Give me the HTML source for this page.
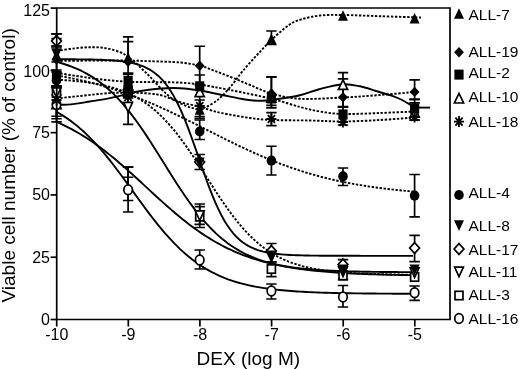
<!DOCTYPE html>
<html><head><meta charset="utf-8"><style>
html,body{margin:0;padding:0;background:#fff;}
svg{display:block;font-family:"Liberation Sans",sans-serif;filter:grayscale(1);}
</style></head><body>
<svg width="520" height="369" viewBox="0 0 520 369"><rect width="520" height="369" fill="#fff"/><path d="M56.50,59.22 L59.50,59.23 L62.49,59.24 L65.49,59.25 L68.48,59.26 L71.48,59.28 L74.47,59.30 L77.47,59.33 L80.47,59.36 L83.46,59.39 L86.46,59.44 L89.45,59.49 L92.45,59.55 L95.45,59.62 L98.44,59.70 L101.44,59.81 L104.43,59.93 L107.43,60.08 L110.42,60.25 L113.42,60.46 L116.42,60.70 L119.41,61.00 L122.41,61.35 L125.40,61.76 L128.40,62.25 L131.39,62.84 L134.39,63.53 L137.39,64.35 L140.38,65.32 L143.38,66.46 L146.37,67.81 L149.37,69.40 L152.37,71.25 L155.36,73.42 L158.36,75.93 L161.35,78.85 L164.35,82.21 L167.34,86.05 L170.34,90.43 L173.34,95.36 L176.33,100.87 L179.33,106.97 L182.32,113.65 L185.32,120.88 L188.32,128.60 L191.31,136.72 L194.31,145.16 L197.30,153.79 L200.30,162.47 L203.29,171.08 L206.29,179.48 L209.29,187.55 L212.28,195.20 L215.28,202.35 L218.27,208.95 L221.27,214.97 L224.26,220.40 L227.26,225.25 L230.26,229.54 L233.25,233.31 L236.25,236.60 L239.24,239.46 L242.24,241.93 L245.24,244.04 L248.23,245.86 L251.23,247.41 L254.22,248.72 L257.22,249.84 L260.21,250.79 L263.21,251.59 L266.21,252.26 L269.20,252.83 L272.20,253.31 L275.19,253.72 L278.19,254.06 L281.18,254.34 L284.18,254.59 L287.18,254.79 L290.17,254.96 L293.17,255.10 L296.16,255.22 L299.16,255.32 L302.16,255.40 L305.15,255.47 L308.15,255.53 L311.14,255.58 L314.14,255.62 L317.13,255.66 L320.13,255.69 L323.13,255.71 L326.12,255.73 L329.12,255.75 L332.11,255.76 L335.11,255.78 L338.11,255.79 L341.10,255.79 L344.10,255.80 L347.09,255.81 L350.09,255.81 L353.08,255.82 L356.08,255.82 L359.08,255.82 L362.07,255.83 L365.07,255.83 L368.06,255.83 L371.06,255.83 L374.05,255.83 L377.05,255.83 L380.05,255.83 L383.04,255.83 L386.04,255.83 L389.03,255.84 L392.03,255.84 L395.03,255.84 L398.02,255.84 L401.02,255.84 L404.01,255.84 L407.01,255.84 L410.00,255.84 L413.00,255.84" fill="none" stroke="#000" stroke-width="1.9"/><path d="M56.50,61.84 L59.51,62.64 L62.52,63.52 L65.53,64.47 L68.54,65.49 L71.55,66.60 L74.56,67.80 L77.56,69.09 L80.57,70.48 L83.58,71.98 L86.59,73.59 L89.60,75.32 L92.61,77.17 L95.62,79.16 L98.63,81.28 L101.64,83.54 L104.65,85.95 L107.66,88.52 L110.67,91.24 L113.68,94.12 L116.68,97.16 L119.69,100.37 L122.70,103.74 L125.71,107.27 L128.72,110.96 L131.73,114.81 L134.74,118.81 L137.75,122.95 L140.76,127.22 L143.77,131.61 L146.78,136.12 L149.79,140.72 L152.80,145.40 L155.81,150.15 L158.81,154.94 L161.82,159.76 L164.83,164.59 L167.84,169.42 L170.85,174.21 L173.86,178.97 L176.87,183.66 L179.88,188.27 L182.89,192.78 L185.90,197.19 L188.91,201.48 L191.92,205.64 L194.93,209.65 L197.93,213.52 L200.94,217.23 L203.95,220.78 L206.96,224.17 L209.97,227.40 L212.98,230.46 L215.99,233.36 L219.00,236.10 L222.01,238.68 L225.02,241.11 L228.03,243.40 L231.04,245.54 L234.05,247.54 L237.05,249.41 L240.06,251.15 L243.07,252.78 L246.08,254.29 L249.09,255.69 L252.10,256.99 L255.11,258.20 L258.12,259.32 L261.13,260.35 L264.14,261.31 L267.15,262.20 L270.16,263.01 L273.17,263.77 L276.17,264.46 L279.18,265.10 L282.19,265.69 L285.20,266.23 L288.21,266.73 L291.22,267.19 L294.23,267.61 L297.24,268.00 L300.25,268.36 L303.26,268.69 L306.27,268.99 L309.28,269.26 L312.29,269.52 L315.29,269.75 L318.30,269.96 L321.31,270.16 L324.32,270.34 L327.33,270.51 L330.34,270.66 L333.35,270.80 L336.36,270.92 L339.37,271.04 L342.38,271.15 L345.39,271.24 L348.40,271.33 L351.41,271.42 L354.42,271.49 L357.42,271.56 L360.43,271.62 L363.44,271.68 L366.45,271.74 L369.46,271.78 L372.47,271.83 L375.48,271.87 L378.49,271.91 L381.50,271.94 L384.51,271.97 L387.52,272.00 L390.53,272.03 L393.54,272.05 L396.54,272.07 L399.55,272.09 L402.56,272.11 L405.57,272.13 L408.58,272.15 L411.59,272.16 L414.60,272.17" fill="none" stroke="#000" stroke-width="1.9"/><path d="M56.50,121.93 L59.51,123.25 L62.52,124.64 L65.53,126.08 L68.54,127.59 L71.55,129.17 L74.56,130.81 L77.56,132.51 L80.57,134.29 L83.58,136.13 L86.59,138.03 L89.60,140.01 L92.61,142.05 L95.62,144.15 L98.63,146.32 L101.64,148.56 L104.65,150.85 L107.66,153.21 L110.67,155.62 L113.68,158.08 L116.68,160.60 L119.69,163.16 L122.70,165.76 L125.71,168.41 L128.72,171.09 L131.73,173.80 L134.74,176.53 L137.75,179.29 L140.76,182.06 L143.77,184.84 L146.78,187.62 L149.79,190.40 L152.80,193.18 L155.81,195.94 L158.81,198.69 L161.82,201.41 L164.83,204.11 L167.84,206.77 L170.85,209.40 L173.86,211.98 L176.87,214.52 L179.88,217.01 L182.89,219.45 L185.90,221.84 L188.91,224.16 L191.92,226.43 L194.93,228.63 L197.93,230.77 L200.94,232.85 L203.95,234.86 L206.96,236.80 L209.97,238.68 L212.98,240.49 L215.99,242.23 L219.00,243.90 L222.01,245.51 L225.02,247.06 L228.03,248.54 L231.04,249.96 L234.05,251.31 L237.05,252.61 L240.06,253.84 L243.07,255.03 L246.08,256.15 L249.09,257.22 L252.10,258.24 L255.11,259.21 L258.12,260.13 L261.13,261.01 L264.14,261.84 L267.15,262.63 L270.16,263.38 L273.17,264.09 L276.17,264.76 L279.18,265.39 L282.19,265.99 L285.20,266.56 L288.21,267.10 L291.22,267.61 L294.23,268.09 L297.24,268.54 L300.25,268.97 L303.26,269.37 L306.27,269.75 L309.28,270.11 L312.29,270.45 L315.29,270.77 L318.30,271.07 L321.31,271.36 L324.32,271.62 L327.33,271.88 L330.34,272.11 L333.35,272.34 L336.36,272.55 L339.37,272.75 L342.38,272.93 L345.39,273.11 L348.40,273.27 L351.41,273.43 L354.42,273.58 L357.42,273.71 L360.43,273.84 L363.44,273.97 L366.45,274.08 L369.46,274.19 L372.47,274.29 L375.48,274.38 L378.49,274.47 L381.50,274.56 L384.51,274.64 L387.52,274.71 L390.53,274.78 L393.54,274.85 L396.54,274.91 L399.55,274.97 L402.56,275.02 L405.57,275.07 L408.58,275.12 L411.59,275.17 L414.60,275.21" fill="none" stroke="#000" stroke-width="1.9"/><path d="M56.50,111.83 L59.51,113.55 L62.52,115.38 L65.53,117.33 L68.54,119.39 L71.55,121.57 L74.56,123.88 L77.56,126.31 L80.57,128.88 L83.58,131.57 L86.59,134.39 L89.60,137.34 L92.61,140.42 L95.62,143.63 L98.63,146.96 L101.64,150.41 L104.65,153.97 L107.66,157.64 L110.67,161.41 L113.68,165.27 L116.68,169.21 L119.69,173.22 L122.70,177.29 L125.71,181.40 L128.72,185.54 L131.73,189.71 L134.74,193.87 L137.75,198.03 L140.76,202.17 L143.77,206.27 L146.78,210.33 L149.79,214.32 L152.80,218.24 L155.81,222.08 L158.81,225.82 L161.82,229.47 L164.83,233.01 L167.84,236.43 L170.85,239.73 L173.86,242.90 L176.87,245.95 L179.88,248.87 L182.89,251.66 L185.90,254.32 L188.91,256.85 L191.92,259.25 L194.93,261.53 L197.93,263.68 L200.94,265.72 L203.95,267.63 L206.96,269.44 L209.97,271.13 L212.98,272.72 L215.99,274.21 L219.00,275.61 L222.01,276.92 L225.02,278.14 L228.03,279.28 L231.04,280.34 L234.05,281.33 L237.05,282.26 L240.06,283.12 L243.07,283.91 L246.08,284.66 L249.09,285.34 L252.10,285.98 L255.11,286.58 L258.12,287.13 L261.13,287.64 L264.14,288.11 L267.15,288.55 L270.16,288.95 L273.17,289.33 L276.17,289.67 L279.18,289.99 L282.19,290.29 L285.20,290.56 L288.21,290.82 L291.22,291.05 L294.23,291.27 L297.24,291.47 L300.25,291.65 L303.26,291.82 L306.27,291.98 L309.28,292.13 L312.29,292.26 L315.29,292.39 L318.30,292.50 L321.31,292.61 L324.32,292.70 L327.33,292.79 L330.34,292.88 L333.35,292.95 L336.36,293.02 L339.37,293.09 L342.38,293.15 L345.39,293.20 L348.40,293.26 L351.41,293.30 L354.42,293.35 L357.42,293.39 L360.43,293.42 L363.44,293.46 L366.45,293.49 L369.46,293.52 L372.47,293.54 L375.48,293.57 L378.49,293.59 L381.50,293.61 L384.51,293.63 L387.52,293.65 L390.53,293.67 L393.54,293.68 L396.54,293.70 L399.55,293.71 L402.56,293.72 L405.57,293.73 L408.58,293.74 L411.59,293.75 L414.60,293.76" fill="none" stroke="#000" stroke-width="1.9"/><path d="M56.50,79.64 L59.51,79.81 L62.52,79.99 L65.53,80.20 L68.54,80.42 L71.55,80.66 L74.56,80.93 L77.56,81.22 L80.57,81.54 L83.58,81.89 L86.59,82.28 L89.60,82.70 L92.61,83.17 L95.62,83.68 L98.63,84.23 L101.64,84.84 L104.65,85.50 L107.66,86.23 L110.67,87.02 L113.68,87.88 L116.68,88.82 L119.69,89.84 L122.70,90.96 L125.71,92.17 L128.72,93.48 L131.73,94.90 L134.74,96.44 L137.75,98.11 L140.76,99.90 L143.77,101.84 L146.78,103.92 L149.79,106.15 L152.80,108.53 L155.81,111.08 L158.81,113.80 L161.82,116.69 L164.83,119.75 L167.84,122.98 L170.85,126.39 L173.86,129.96 L176.87,133.70 L179.88,137.60 L182.89,141.64 L185.90,145.83 L188.91,150.14 L191.92,154.56 L194.93,159.08 L197.93,163.67 L200.94,168.33 L203.95,173.02 L206.96,177.72 L209.97,182.42 L212.98,187.09 L215.99,191.71 L219.00,196.27 L222.01,200.74 L225.02,205.10 L228.03,209.35 L231.04,213.46 L234.05,217.43 L237.05,221.24 L240.06,224.90 L243.07,228.38 L246.08,231.69 L249.09,234.83 L252.10,237.80 L255.11,240.60 L258.12,243.22 L261.13,245.69 L264.14,247.99 L267.15,250.14 L270.16,252.14 L273.17,254.00 L276.17,255.72 L279.18,257.32 L282.19,258.79 L285.20,260.16 L288.21,261.41 L291.22,262.57 L294.23,263.64 L297.24,264.61 L300.25,265.51 L303.26,266.34 L306.27,267.09 L309.28,267.78 L312.29,268.42 L315.29,268.99 L318.30,269.52 L321.31,270.01 L324.32,270.45 L327.33,270.85 L330.34,271.22 L333.35,271.56 L336.36,271.86 L339.37,272.14 L342.38,272.39 L345.39,272.63 L348.40,272.84 L351.41,273.03 L354.42,273.20 L357.42,273.36 L360.43,273.51 L363.44,273.64 L366.45,273.76 L369.46,273.87 L372.47,273.97 L375.48,274.06 L378.49,274.14 L381.50,274.22 L384.51,274.29 L387.52,274.35 L390.53,274.40 L393.54,274.46 L396.54,274.50 L399.55,274.54 L402.56,274.58 L405.57,274.62 L408.58,274.65 L411.59,274.68 L414.60,274.70" fill="none" stroke="#000" stroke-width="1.9" stroke-dasharray="2.4 1.6"/><path d="M56.50,75.40 L59.51,75.93 L62.52,76.48 L65.53,77.04 L68.54,77.63 L71.55,78.24 L74.56,78.87 L77.56,79.52 L80.57,80.20 L83.58,80.90 L86.59,81.62 L89.60,82.37 L92.61,83.14 L95.62,83.93 L98.63,84.75 L101.64,85.60 L104.65,86.47 L107.66,87.37 L110.67,88.29 L113.68,89.24 L116.68,90.21 L119.69,91.22 L122.70,92.24 L125.71,93.30 L128.72,94.38 L131.73,95.49 L134.74,96.62 L137.75,97.78 L140.76,98.97 L143.77,100.18 L146.78,101.41 L149.79,102.67 L152.80,103.95 L155.81,105.26 L158.81,106.58 L161.82,107.93 L164.83,109.30 L167.84,110.69 L170.85,112.09 L173.86,113.51 L176.87,114.95 L179.88,116.41 L182.89,117.87 L185.90,119.35 L188.91,120.84 L191.92,122.34 L194.93,123.84 L197.93,125.36 L200.94,126.87 L203.95,128.39 L206.96,129.92 L209.97,131.44 L212.98,132.96 L215.99,134.48 L219.00,135.99 L222.01,137.50 L225.02,139.00 L228.03,140.49 L231.04,141.97 L234.05,143.44 L237.05,144.89 L240.06,146.34 L243.07,147.76 L246.08,149.17 L249.09,150.56 L252.10,151.93 L255.11,153.28 L258.12,154.62 L261.13,155.92 L264.14,157.21 L267.15,158.47 L270.16,159.71 L273.17,160.93 L276.17,162.12 L279.18,163.28 L282.19,164.42 L285.20,165.53 L288.21,166.62 L291.22,167.68 L294.23,168.71 L297.24,169.72 L300.25,170.70 L303.26,171.66 L306.27,172.58 L309.28,173.49 L312.29,174.36 L315.29,175.21 L318.30,176.04 L321.31,176.84 L324.32,177.61 L327.33,178.36 L330.34,179.09 L333.35,179.79 L336.36,180.47 L339.37,181.13 L342.38,181.77 L345.39,182.38 L348.40,182.97 L351.41,183.54 L354.42,184.09 L357.42,184.63 L360.43,185.14 L363.44,185.63 L366.45,186.11 L369.46,186.57 L372.47,187.01 L375.48,187.43 L378.49,187.84 L381.50,188.23 L384.51,188.61 L387.52,188.98 L390.53,189.32 L393.54,189.66 L396.54,189.98 L399.55,190.29 L402.56,190.59 L405.57,190.88 L408.58,191.15 L411.59,191.41 L414.60,191.66" fill="none" stroke="#000" stroke-width="1.9" stroke-dasharray="2.4 1.6"/><path d="M56.50,51.00 C59.58,50.55 69.08,48.93 75.00,48.30 C80.92,47.67 86.67,47.18 92.00,47.20 C97.33,47.22 102.17,47.52 107.00,48.40 C111.83,49.28 117.50,51.07 121.00,52.50 C124.50,53.93 125.50,55.25 128.00,57.00 C130.50,58.75 133.48,60.83 136.00,63.00 C138.52,65.17 140.81,67.75 143.10,70.00 C145.39,72.25 147.18,73.83 149.75,76.50 C152.32,79.17 155.62,83.00 158.50,86.00 C161.38,89.00 164.25,92.08 167.00,94.50 C169.75,96.92 172.00,98.67 175.00,100.50 C178.00,102.33 182.00,104.22 185.00,105.50 C188.00,106.78 190.55,107.62 193.00,108.20 C195.45,108.78 197.53,109.20 199.70,109.00 C201.87,108.80 203.62,108.08 206.00,107.00 C208.38,105.92 211.38,104.29 214.00,102.50 C216.62,100.71 218.58,99.38 221.75,96.25 C224.92,93.12 229.50,87.96 233.00,83.75 C236.50,79.54 238.75,75.79 242.75,71.00 C246.75,66.21 252.22,60.17 257.00,55.00 C261.77,49.83 266.07,45.00 271.40,40.00 C276.73,35.00 284.02,28.43 289.00,25.00 C293.98,21.57 296.08,20.98 301.25,19.40 C306.42,17.82 313.04,16.23 320.00,15.50 C326.96,14.77 333.00,14.88 343.00,15.00 C353.00,15.12 367.00,15.78 380.00,16.20 C393.00,16.62 414.17,17.28 421.00,17.50" fill="none" stroke="#000" stroke-width="1.9" stroke-dasharray="2.4 1.6"/><path d="M56.50,60.80 C63.75,60.77 88.08,60.63 100.00,60.60 C111.92,60.57 119.67,60.50 128.00,60.60 C136.33,60.70 141.33,60.88 150.00,61.20 C158.67,61.52 171.72,61.75 180.00,62.50 C188.28,63.25 193.87,64.28 199.70,65.70 C205.53,67.12 209.62,69.03 215.00,71.00 C220.38,72.97 226.17,75.17 232.00,77.50 C237.83,79.83 243.42,82.33 250.00,85.00 C256.58,87.67 263.17,91.20 271.50,93.50 C279.83,95.80 288.08,98.13 300.00,98.80 C311.92,99.47 329.67,98.13 343.00,97.50 C356.33,96.87 368.07,95.92 380.00,95.00 C391.93,94.08 408.83,92.50 414.60,92.00" fill="none" stroke="#000" stroke-width="1.9" stroke-dasharray="2.4 1.6"/><path d="M56.50,72.80 C60.42,73.42 72.75,75.42 80.00,76.50 C87.25,77.58 92.00,78.42 100.00,79.30 C108.00,80.18 119.67,81.33 128.00,81.80 C136.33,82.27 141.33,81.97 150.00,82.10 C158.67,82.23 171.72,82.18 180.00,82.60 C188.28,83.02 191.37,83.37 199.70,84.60 C208.03,85.83 218.03,87.64 230.00,90.00 C241.97,92.36 259.83,95.92 271.50,98.75 C283.17,101.58 291.92,104.88 300.00,107.00 C308.08,109.12 312.83,110.33 320.00,111.50 C327.17,112.67 333.00,113.75 343.00,114.00 C353.00,114.25 368.07,113.42 380.00,113.00 C391.93,112.58 408.83,111.75 414.60,111.50" fill="none" stroke="#000" stroke-width="1.9" stroke-dasharray="2.4 1.6"/><path d="M56.50,98.50 C60.42,98.08 71.25,96.90 80.00,96.00 C88.75,95.10 101.00,93.63 109.00,93.10 C117.00,92.57 122.00,92.78 128.00,92.80 C134.00,92.82 139.67,92.83 145.00,93.20 C150.33,93.57 155.33,93.95 160.00,95.00 C164.67,96.05 168.83,98.08 173.00,99.50 C177.17,100.92 180.55,102.33 185.00,103.50 C189.45,104.67 195.53,105.42 199.70,106.50 C203.87,107.58 206.28,108.90 210.00,110.00 C213.72,111.10 215.33,111.77 222.00,113.10 C228.67,114.43 241.75,116.85 250.00,118.00 C258.25,119.15 261.50,119.58 271.50,120.00 C281.50,120.42 298.08,120.25 310.00,120.50 C321.92,120.75 331.33,121.58 343.00,121.50 C354.67,121.42 368.07,120.67 380.00,120.00 C391.93,119.33 408.83,117.92 414.60,117.50" fill="none" stroke="#000" stroke-width="1.9" stroke-dasharray="2.4 1.6"/><path d="M56.50,104.60 C58.88,104.57 65.22,104.92 70.80,104.40 C76.38,103.88 83.88,102.47 90.00,101.50 C96.12,100.53 101.90,99.70 107.50,98.60 C113.10,97.50 119.02,96.00 123.60,94.90 C128.18,93.80 128.68,93.07 135.00,92.00 C141.32,90.93 154.00,89.13 161.50,88.50 C169.00,87.87 173.62,87.87 180.00,88.20 C186.38,88.53 192.75,89.37 199.75,90.50 C206.75,91.63 214.46,93.50 222.00,95.00 C229.54,96.50 238.67,98.53 245.00,99.50 C251.33,100.47 255.00,100.80 260.00,100.80 C265.00,100.80 268.33,100.42 275.00,99.50 C281.67,98.58 292.50,97.05 300.00,95.30 C307.50,93.55 312.83,90.83 320.00,89.00 C327.17,87.17 336.33,84.75 343.00,84.30 C349.67,83.85 354.50,85.18 360.00,86.30 C365.50,87.42 371.00,89.52 376.00,91.00 C381.00,92.48 386.00,93.87 390.00,95.20 C394.00,96.53 396.67,97.43 400.00,99.00 C403.33,100.57 407.57,103.18 410.00,104.60 C412.43,106.02 413.83,107.02 414.60,107.50" fill="none" stroke="#000" stroke-width="1.9"/><path d="M414.6,107.6 L430,107.6" fill="none" stroke="#000" stroke-width="1.9"/><path d="M56.5,86 V116.25 M51.3,86 H61.7 M51.3,116.25 H61.7" stroke="#000" stroke-width="1.7" fill="none"/><path d="M128.1,167.1 V190 M122.89999999999999,167.1 H133.29999999999998 M122.89999999999999,190 H133.29999999999998" stroke="#000" stroke-width="1.7" fill="none"/><path d="M199.7,204 V227.5 M194.5,204 H204.89999999999998 M194.5,227.5 H204.89999999999998" stroke="#000" stroke-width="1.7" fill="none"/><path d="M271.4,262 V276.7 M266.2,262 H276.59999999999997 M266.2,276.7 H276.59999999999997" stroke="#000" stroke-width="1.7" fill="none"/><path d="M56.5,86 V118.75 M51.3,86 H61.7 M51.3,118.75 H61.7" stroke="#000" stroke-width="1.7" fill="none"/><path d="M128.1,98 V124.4 M122.89999999999999,98 H133.29999999999998 M122.89999999999999,124.4 H133.29999999999998" stroke="#000" stroke-width="1.7" fill="none"/><path d="M199.7,206.7 V224.4 M194.5,206.7 H204.89999999999998 M194.5,224.4 H204.89999999999998" stroke="#000" stroke-width="1.7" fill="none"/><path d="M56.5,33.8 V46 M51.3,33.8 H61.7 M51.3,46 H61.7" stroke="#000" stroke-width="1.7" fill="none"/><path d="M199.7,154.5 V169.5 M194.5,154.5 H204.89999999999998 M194.5,169.5 H204.89999999999998" stroke="#000" stroke-width="1.7" fill="none"/><path d="M271.4,243.5 V262 M266.2,243.5 H276.59999999999997 M266.2,262 H276.59999999999997" stroke="#000" stroke-width="1.7" fill="none"/><path d="M343.0,259.7 V279.6 M337.8,259.7 H348.2 M337.8,279.6 H348.2" stroke="#000" stroke-width="1.7" fill="none"/><path d="M414.6,235.4 V261.7 M409.40000000000003,235.4 H419.8 M409.40000000000003,261.7 H419.8" stroke="#000" stroke-width="1.7" fill="none"/><path d="M56.5,95 V121.9 M51.3,95 H61.7 M51.3,121.9 H61.7" stroke="#000" stroke-width="1.7" fill="none"/><path d="M271.4,77 V107.8 M266.2,77 H276.59999999999997 M266.2,107.8 H276.59999999999997" stroke="#000" stroke-width="1.7" fill="none"/><path d="M343.0,72.6 V107 M337.8,72.6 H348.2 M337.8,107 H348.2" stroke="#000" stroke-width="1.7" fill="none"/><path d="M414.6,99.4 V120 M409.40000000000003,99.4 H419.8 M409.40000000000003,120 H419.8" stroke="#000" stroke-width="1.7" fill="none"/><path d="M128.1,177.25 V200.5 M122.89999999999999,177.25 H133.29999999999998 M122.89999999999999,200.5 H133.29999999999998" stroke="#000" stroke-width="1.7" fill="none"/><path d="M199.7,250 V269 M194.5,250 H204.89999999999998 M194.5,269 H204.89999999999998" stroke="#000" stroke-width="1.7" fill="none"/><path d="M271.4,284 V299 M266.2,284 H276.59999999999997 M266.2,299 H276.59999999999997" stroke="#000" stroke-width="1.7" fill="none"/><path d="M343.0,285.5 V307 M337.8,285.5 H348.2 M337.8,307 H348.2" stroke="#000" stroke-width="1.7" fill="none"/><path d="M414.6,286 V300.3 M409.40000000000003,286 H419.8 M409.40000000000003,300.3 H419.8" stroke="#000" stroke-width="1.7" fill="none"/><path d="M271.4,112.6 V125.7 M266.2,112.6 H276.59999999999997 M266.2,125.7 H276.59999999999997" stroke="#000" stroke-width="1.7" fill="none"/><path d="M199.7,120 V139.5 M194.5,120 H204.89999999999998 M194.5,139.5 H204.89999999999998" stroke="#000" stroke-width="1.7" fill="none"/><path d="M271.4,146.25 V175 M266.2,146.25 H276.59999999999997 M266.2,175 H276.59999999999997" stroke="#000" stroke-width="1.7" fill="none"/><path d="M343.0,168 V185.5 M337.8,168 H348.2 M337.8,185.5 H348.2" stroke="#000" stroke-width="1.7" fill="none"/><path d="M414.6,174.5 V216.9 M409.40000000000003,174.5 H419.8 M409.40000000000003,216.9 H419.8" stroke="#000" stroke-width="1.7" fill="none"/><path d="M56.5,70 V86 M51.3,70 H61.7 M51.3,86 H61.7" stroke="#000" stroke-width="1.7" fill="none"/><path d="M128.1,73.1 V95 M122.89999999999999,73.1 H133.29999999999998 M122.89999999999999,95 H133.29999999999998" stroke="#000" stroke-width="1.7" fill="none"/><path d="M199.7,75 V118.4 M194.5,75 H204.89999999999998 M194.5,118.4 H204.89999999999998" stroke="#000" stroke-width="1.7" fill="none"/><path d="M271.4,76.9 V105.3 M266.2,76.9 H276.59999999999997 M266.2,105.3 H276.59999999999997" stroke="#000" stroke-width="1.7" fill="none"/><path d="M343.0,107 V125 M337.8,107 H348.2 M337.8,125 H348.2" stroke="#000" stroke-width="1.7" fill="none"/><path d="M414.6,102.9 V120 M409.40000000000003,102.9 H419.8 M409.40000000000003,120 H419.8" stroke="#000" stroke-width="1.7" fill="none"/><path d="M56.5,48 V72 M51.3,48 H61.7 M51.3,72 H61.7" stroke="#000" stroke-width="1.7" fill="none"/><path d="M128.1,36.9 V74.4 M122.89999999999999,36.9 H133.29999999999998 M122.89999999999999,74.4 H133.29999999999998" stroke="#000" stroke-width="1.7" fill="none"/><path d="M199.7,46.25 V85 M194.5,46.25 H204.89999999999998 M194.5,85 H204.89999999999998" stroke="#000" stroke-width="1.7" fill="none"/><path d="M343.0,78.9 V106.7 M337.8,78.9 H348.2 M337.8,106.7 H348.2" stroke="#000" stroke-width="1.7" fill="none"/><path d="M414.6,79.8 V99.3 M409.40000000000003,79.8 H419.8 M409.40000000000003,99.3 H419.8" stroke="#000" stroke-width="1.7" fill="none"/><path d="M56.5,33.8 V62 M51.3,33.8 H61.7 M51.3,62 H61.7" stroke="#000" stroke-width="1.7" fill="none"/><path d="M128.1,41.7 V62 M122.89999999999999,41.7 H133.29999999999998 M122.89999999999999,62 H133.29999999999998" stroke="#000" stroke-width="1.7" fill="none"/><path d="M199.7,100 V116.5 M194.5,100 H204.89999999999998 M194.5,116.5 H204.89999999999998" stroke="#000" stroke-width="1.7" fill="none"/><path d="M271.4,31 V44.5 M266.2,31 H276.59999999999997 M266.2,44.5 H276.59999999999997" stroke="#000" stroke-width="1.7" fill="none"/><path d="M128.1,167.1 V212 M122.89999999999999,167.1 H133.29999999999998 M122.89999999999999,212 H133.29999999999998" stroke="#000" stroke-width="1.7" fill="none"/><path d="M56.5,38.7 V46.3 M51.3,38.7 H61.7 M51.3,46.3 H61.7" stroke="#000" stroke-width="1.7" fill="none"/><rect x="52.50" y="88.80" width="8.00" height="8.40" fill="#fff" stroke="#000" stroke-width="1.7"/><rect x="124.10" y="86.80" width="8.00" height="8.40" fill="#fff" stroke="#000" stroke-width="1.7"/><rect x="195.70" y="212.50" width="8.00" height="8.40" fill="#fff" stroke="#000" stroke-width="1.7"/><rect x="267.40" y="264.80" width="8.00" height="8.40" fill="#fff" stroke="#000" stroke-width="1.7"/><rect x="339.00" y="271.30" width="8.00" height="8.40" fill="#fff" stroke="#000" stroke-width="1.7"/><rect x="410.60" y="272.80" width="8.00" height="8.40" fill="#fff" stroke="#000" stroke-width="1.7"/><polygon points="56.50,97.50 52.10,87.90 60.90,87.90" fill="#fff" stroke="#000" stroke-width="1.7"/><polygon points="128.10,112.00 123.70,102.40 132.50,102.40" fill="#fff" stroke="#000" stroke-width="1.7"/><polygon points="199.70,220.50 195.30,210.90 204.10,210.90" fill="#fff" stroke="#000" stroke-width="1.7"/><polygon points="271.40,261.50 267.00,251.90 275.80,251.90" fill="#fff" stroke="#000" stroke-width="1.7"/><polygon points="343.00,276.50 338.60,266.90 347.40,266.90" fill="#fff" stroke="#000" stroke-width="1.7"/><polygon points="414.60,277.50 410.20,267.90 419.00,267.90" fill="#fff" stroke="#000" stroke-width="1.7"/><polygon points="56.50,35.60 61.40,41.00 56.50,46.40 51.60,41.00" fill="#fff" stroke="#000" stroke-width="1.7"/><polygon points="128.10,84.60 133.00,90.00 128.10,95.40 123.20,90.00" fill="#fff" stroke="#000" stroke-width="1.7"/><polygon points="199.70,156.60 204.60,162.00 199.70,167.40 194.80,162.00" fill="#fff" stroke="#000" stroke-width="1.7"/><polygon points="271.40,245.60 276.30,251.00 271.40,256.40 266.50,251.00" fill="#fff" stroke="#000" stroke-width="1.7"/><polygon points="343.00,259.10 347.90,264.50 343.00,269.90 338.10,264.50" fill="#fff" stroke="#000" stroke-width="1.7"/><polygon points="414.60,242.60 419.50,248.00 414.60,253.40 409.70,248.00" fill="#fff" stroke="#000" stroke-width="1.7"/><polygon points="56.50,99.10 51.90,108.70 61.10,108.70" fill="#fff" stroke="#000" stroke-width="1.7"/><polygon points="128.10,86.60 123.50,96.20 132.70,96.20" fill="#fff" stroke="#000" stroke-width="1.7"/><polygon points="199.70,87.10 195.10,96.70 204.30,96.70" fill="#fff" stroke="#000" stroke-width="1.7"/><polygon points="271.40,92.60 266.80,102.20 276.00,102.20" fill="#fff" stroke="#000" stroke-width="1.7"/><polygon points="343.00,79.80 338.40,89.40 347.60,89.40" fill="#fff" stroke="#000" stroke-width="1.7"/><polygon points="414.60,107.60 410.00,117.20 419.20,117.20" fill="#fff" stroke="#000" stroke-width="1.7"/><ellipse cx="56.50" cy="104.50" rx="4.25" ry="4.85" fill="#fff" stroke="#000" stroke-width="1.7"/><ellipse cx="128.10" cy="189.70" rx="4.25" ry="4.85" fill="#fff" stroke="#000" stroke-width="1.7"/><ellipse cx="199.70" cy="260.00" rx="4.25" ry="4.85" fill="#fff" stroke="#000" stroke-width="1.7"/><ellipse cx="271.40" cy="291.00" rx="4.25" ry="4.85" fill="#fff" stroke="#000" stroke-width="1.7"/><ellipse cx="343.00" cy="297.00" rx="4.25" ry="4.85" fill="#fff" stroke="#000" stroke-width="1.7"/><ellipse cx="414.60" cy="292.80" rx="4.25" ry="4.85" fill="#fff" stroke="#000" stroke-width="1.7"/><path d="M56.50,94.50 V105.50 M51.50,100.00 H61.50 M52.90,96.04 L60.10,103.96 M52.90,103.96 L60.10,96.04" stroke="#000" stroke-width="1.8" fill="none"/><path d="M128.10,91.50 V102.50 M123.10,97.00 H133.10 M124.50,93.04 L131.70,100.96 M124.50,100.96 L131.70,93.04" stroke="#000" stroke-width="1.8" fill="none"/><path d="M199.70,100.50 V111.50 M194.70,106.00 H204.70 M196.10,102.04 L203.30,109.96 M196.10,109.96 L203.30,102.04" stroke="#000" stroke-width="1.8" fill="none"/><path d="M271.40,113.50 V124.50 M266.40,119.00 H276.40 M267.80,115.04 L275.00,122.96 M267.80,122.96 L275.00,115.04" stroke="#000" stroke-width="1.8" fill="none"/><path d="M343.00,116.50 V127.50 M338.00,122.00 H348.00 M339.40,118.04 L346.60,125.96 M339.40,125.96 L346.60,118.04" stroke="#000" stroke-width="1.8" fill="none"/><path d="M414.60,111.50 V122.50 M409.60,117.00 H419.60 M411.00,113.04 L418.20,120.96 M411.00,120.96 L418.20,113.04" stroke="#000" stroke-width="1.8" fill="none"/><polygon points="56.50,59.90 51.50,49.10 61.50,49.10" fill="#000"/><polygon points="128.10,100.40 123.10,89.60 133.10,89.60" fill="#000"/><polygon points="199.70,168.40 194.70,157.60 204.70,157.60" fill="#000"/><polygon points="271.40,261.40 266.40,250.60 276.40,250.60" fill="#000"/><polygon points="343.00,275.40 338.00,264.60 348.00,264.60" fill="#000"/><polygon points="414.60,275.40 409.60,264.60 419.60,264.60" fill="#000"/><ellipse cx="56.50" cy="80.50" rx="4.8" ry="5.1" fill="#000"/><ellipse cx="128.10" cy="90.00" rx="4.8" ry="5.1" fill="#000"/><ellipse cx="199.70" cy="131.50" rx="4.8" ry="5.1" fill="#000"/><ellipse cx="271.40" cy="160.70" rx="4.8" ry="5.1" fill="#000"/><ellipse cx="343.00" cy="176.30" rx="4.8" ry="5.1" fill="#000"/><ellipse cx="414.60" cy="195.60" rx="4.8" ry="5.1" fill="#000"/><rect x="51.90" y="70.50" width="9.2" height="10" fill="#000"/><rect x="123.50" y="76.00" width="9.2" height="10" fill="#000"/><rect x="195.10" y="81.30" width="9.2" height="10" fill="#000"/><rect x="266.80" y="93.50" width="9.2" height="10" fill="#000"/><rect x="338.40" y="109.40" width="9.2" height="10" fill="#000"/><rect x="410.00" y="103.50" width="9.2" height="10" fill="#000"/><polygon points="56.50,54.30 61.40,59.50 56.50,64.70 51.60,59.50" fill="#000"/><polygon points="128.10,56.60 133.00,61.80 128.10,67.00 123.20,61.80" fill="#000"/><polygon points="199.70,60.50 204.60,65.70 199.70,70.90 194.80,65.70" fill="#000"/><polygon points="271.40,88.30 276.30,93.50 271.40,98.70 266.50,93.50" fill="#000"/><polygon points="343.00,92.00 347.90,97.20 343.00,102.40 338.10,97.20" fill="#000"/><polygon points="414.60,86.70 419.50,91.90 414.60,97.10 409.70,91.90" fill="#000"/><polygon points="56.50,49.80 51.50,60.20 61.50,60.20" fill="#000"/><polygon points="128.10,52.30 123.10,62.70 133.10,62.70" fill="#000"/><polygon points="199.70,104.30 194.70,114.70 204.70,114.70" fill="#000"/><polygon points="271.40,33.60 266.40,44.00 276.40,44.00" fill="#000"/><polygon points="343.00,10.30 338.00,20.70 348.00,20.70" fill="#000"/><polygon points="414.60,13.10 409.60,23.50 419.60,23.50" fill="#000"/><path d="M56.7,8 V319.5 H450 V8 H56.7 Z" fill="none" stroke="#000" stroke-width="1.7"/><path d="M50.6,319.50 H56.7" stroke="#000" stroke-width="1.7"/><text x="50" y="324.90" text-anchor="end" font-size="16">0</text><path d="M50.6,257.22 H56.7" stroke="#000" stroke-width="1.7"/><text x="50" y="262.62" text-anchor="end" font-size="16">25</text><path d="M50.6,194.94 H56.7" stroke="#000" stroke-width="1.7"/><text x="50" y="200.34" text-anchor="end" font-size="16">50</text><path d="M50.6,132.66 H56.7" stroke="#000" stroke-width="1.7"/><text x="50" y="138.06" text-anchor="end" font-size="16">75</text><path d="M50.6,70.38 H56.7" stroke="#000" stroke-width="1.7"/><text x="50" y="77.00" text-anchor="end" font-size="16">100</text><path d="M50.6,8.10 H56.7" stroke="#000" stroke-width="1.7"/><text x="50" y="15.80" text-anchor="end" font-size="16">125</text><path d="M56.7,319.5 V326.5" stroke="#000" stroke-width="1.7"/><text x="56.8" y="339.8" text-anchor="middle" font-size="16">-10</text><path d="M128.29999999999998,319.5 V326.5" stroke="#000" stroke-width="1.7"/><text x="128.4" y="339.8" text-anchor="middle" font-size="16">-9</text><path d="M199.89999999999998,319.5 V326.5" stroke="#000" stroke-width="1.7"/><text x="200.0" y="339.8" text-anchor="middle" font-size="16">-8</text><path d="M271.59999999999997,319.5 V326.5" stroke="#000" stroke-width="1.7"/><text x="271.7" y="339.8" text-anchor="middle" font-size="16">-7</text><path d="M343.2,319.5 V326.5" stroke="#000" stroke-width="1.7"/><text x="343.3" y="339.8" text-anchor="middle" font-size="16">-6</text><path d="M414.8,319.5 V326.5" stroke="#000" stroke-width="1.7"/><text x="414.90000000000003" y="339.8" text-anchor="middle" font-size="16">-5</text><text x="196.6" y="364.6" font-size="19">DEX (log M)</text><text transform="translate(15.3,165.4) rotate(-90)" text-anchor="middle" font-size="19">Viable cell number (% of control)</text><polygon points="459.00,8.30 454.00,18.70 464.00,18.70" fill="#000"/><text x="468.5" y="19.6" font-size="15.5">ALL-7</text><polygon points="459.00,47.05 463.90,52.25 459.00,57.45 454.10,52.25" fill="#000"/><text x="468.5" y="57.3" font-size="15.5">ALL-19</text><rect x="454.40" y="69.60" width="9.2" height="10" fill="#000"/><text x="468.5" y="78.4" font-size="15.5">ALL-2</text><polygon points="459.00,93.40 454.40,103.00 463.60,103.00" fill="#fff" stroke="#000" stroke-width="1.7"/><text x="468.5" y="102.3" font-size="15.5">ALL-10</text><path d="M459.00,116.10 V127.10 M454.00,121.60 H464.00 M455.40,117.64 L462.60,125.56 M455.40,125.56 L462.60,117.64" stroke="#000" stroke-width="1.8" fill="none"/><text x="468.5" y="127.4" font-size="15.5">ALL-18</text><ellipse cx="459.00" cy="195.00" rx="4.8" ry="5.1" fill="#000"/><text x="468.5" y="197.7" font-size="15.5">ALL-4</text><polygon points="459.00,231.00 454.00,220.20 464.00,220.20" fill="#000"/><text x="468.5" y="231" font-size="15.5">ALL-8</text><polygon points="459.00,243.60 463.90,249.00 459.00,254.40 454.10,249.00" fill="#fff" stroke="#000" stroke-width="1.7"/><text x="468.5" y="254.7" font-size="15.5">ALL-17</text><polygon points="459.00,276.70 454.60,267.10 463.40,267.10" fill="#fff" stroke="#000" stroke-width="1.7"/><text x="468.5" y="276.7" font-size="15.5">ALL-11</text><rect x="455.00" y="291.30" width="8.00" height="8.40" fill="#fff" stroke="#000" stroke-width="1.7"/><text x="468.5" y="300.4" font-size="15.5">ALL-3</text><ellipse cx="459.00" cy="318.50" rx="4.25" ry="4.85" fill="#fff" stroke="#000" stroke-width="1.7"/><text x="468.5" y="324.2" font-size="15.5">ALL-16</text></svg>
</body></html>
